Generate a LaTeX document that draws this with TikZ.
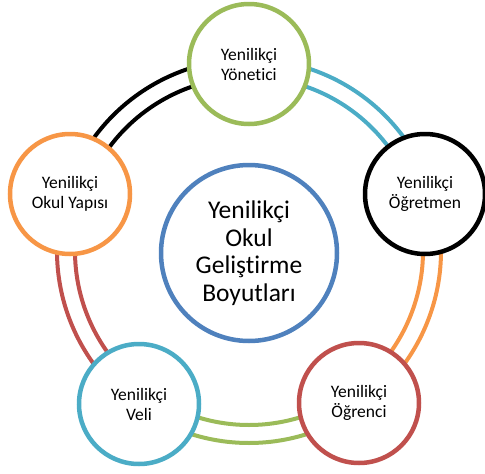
\documentclass[tikz,border=0pt]{standalone}
\usepackage{fontspec}
\setmainfont[Ligatures=NoCommon]{Carlito}
\definecolor{cgreen}{HTML}{9BBB59}
\definecolor{cteal}{HTML}{4BACC6}
\definecolor{corange}{HTML}{F79646}
\definecolor{cred}{HTML}{C0504D}
\definecolor{cblue}{HTML}{4F81BD}
\begin{document}
\begin{tikzpicture}[x=1pt,y=-1pt,
  dim/.style={circle,draw,line width=4.5pt,fill=white,minimum size=120pt,inner sep=0pt,align=center,
    font=\fontsize{17.5}{20}\selectfont,text=black},
  core/.style={circle,draw=cblue,line width=4.5pt,fill=white,minimum size=176pt,inner sep=0pt,align=center,
    font=\fontsize{25.5}{27.5}\selectfont,text=black},
  link/.style={line width=4pt}]
\useasboundingbox (0,0) rectangle (485,474);
\coordinate (cen) at (249,251);
% double arcs
\foreach \a/\b/\c in {-90/-18/cteal, -18/54/corange, 54/126/cgreen, 126/198/cred, 198/270/black}{
  \draw[link,draw=\c] (cen) ++(\a:192) arc[start angle=\a,end angle=\b,radius=192];
  \draw[link,draw=\c] (cen) ++(\a:174) arc[start angle=\a,end angle=\b,radius=174];
}
\node[dim,draw=cgreen] (yon) at (249,64) {Yenilikçi\\Yönetici};
\node[dim,draw=black] (ogt) at (425,194) {Yenilikçi\\Öğretmen};
\node[dim,draw=cred] (ogr) at (359,403) {Yenilikçi\\Öğrenci};
\node[dim,draw=cteal] (vel) at (139,404) {Yenilikçi\\Veli};
\node[dim,draw=corange] (oky) at (70,194) {Yenilikçi\\Okul Yapısı};
\node[core] (mid) at (249,253) {Yenilikçi\\Okul\\Geliştirme\\Boyutları};
\end{tikzpicture}
\end{document}
